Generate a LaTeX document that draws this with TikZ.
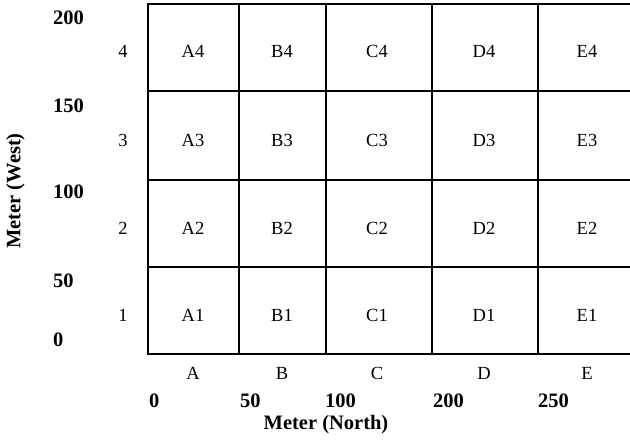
\documentclass[tikz,border=0pt]{standalone}
\usepackage{fontspec}
\setmainfont{Liberation Serif}
\begin{document}
\begin{tikzpicture}[x=1pt,y=-1pt,
  celltxt/.style={inner sep=0pt,font=\fontsize{18.5}{20}\selectfont},
  axtxt/.style={inner sep=0pt,font=\fontsize{20.5}{22}\selectfont\bfseries},
  gridline/.style={line width=2pt}]
\useasboundingbox (0,0) rectangle (630,440);
\fill[white] (0,0) rectangle (630,440);
% grid
\foreach \x in {148,239,326,432,537.5,645}
  \draw[gridline] (\x,4) -- (\x,354);
\foreach \y in {4,91,180,267,354}
  \draw[gridline] (147,\y) -- (645,\y);
% cell labels
\foreach \c/\cx in {A/193,B/282,C/377,D/484,E/587}{
  \foreach \r/\ry in {4/51,3/140,2/228,1/315}{
    \node[celltxt] (cell\c\r) at (\cx,\ry) {\c\r};
  }
  \node[celltxt] (col\c) at (\cx,373) {\c};
}
\foreach \r/\ry in {4/51,3/140,2/228,1/315}
  \node[celltxt] (row\r) at (123,\ry) {\r};
% y axis values
\foreach \v/\vy in {200/18,150/105.5,100/192,50/281,0/339.5}
  \node[axtxt,anchor=west] (yv\v) at (53,\vy) {\v};
% x axis values
\foreach \v/\vx in {0/149,50/240,100/325,200/433,250/538}
  \node[axtxt,anchor=west] (xv\v) at (\vx,401) {\v};
\node[axtxt] (xtitle) at (326,425) {Meter (North)};
\node[axtxt,rotate=90] (ytitle) at (15.5,191) {Meter (West)};
\end{tikzpicture}
\end{document}
